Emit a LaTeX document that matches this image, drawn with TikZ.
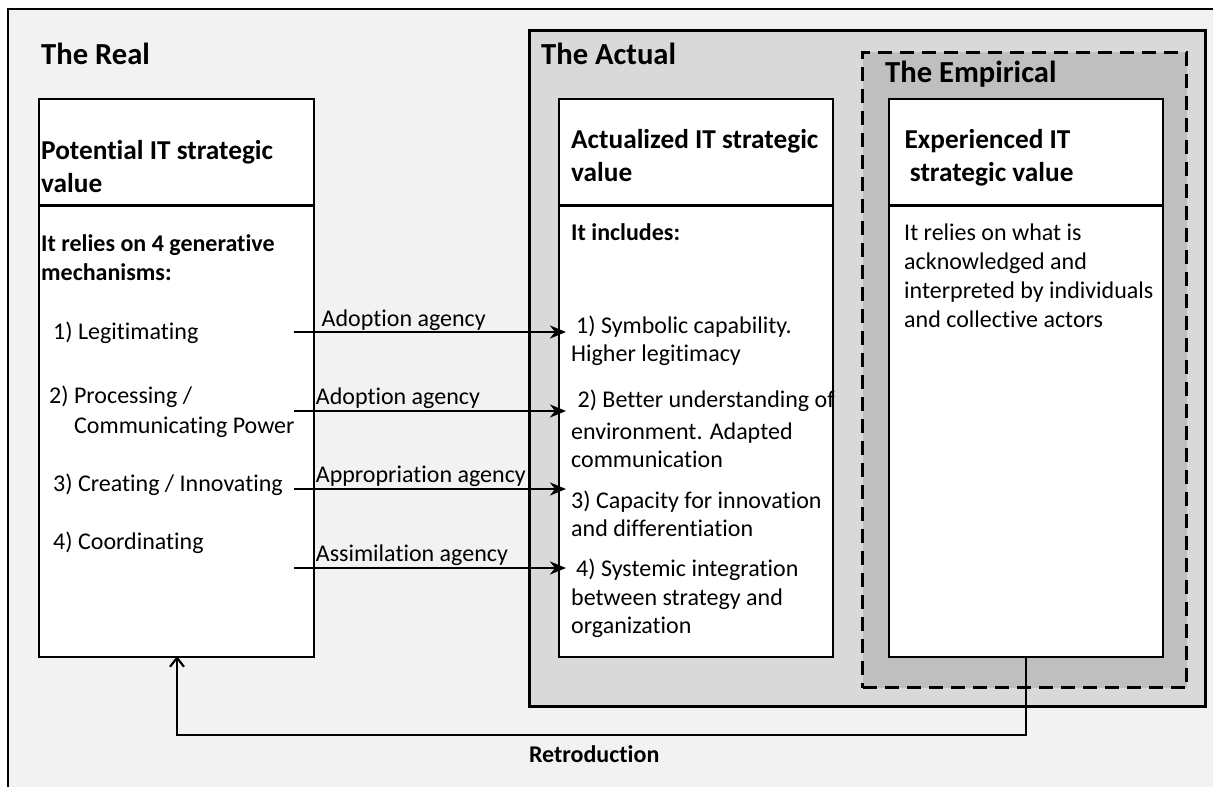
\documentclass[tikz,border=0pt]{standalone}
\usepackage{fontspec}
\setmainfont{Carlito}[Ligatures=NoCommon]
\usetikzlibrary{arrows.meta}
\definecolor{outerfill}{HTML}{F2F2F2}
\definecolor{actualfill}{HTML}{D9D9D9}
\definecolor{empfill}{HTML}{BFBFBF}
\begin{document}
\begin{tikzpicture}[x=1pt,y=-1pt,
  body/.style={font=\fontsize{24}{29}\selectfont, inner sep=0pt, anchor=base west},
  bbody/.style={font=\fontsize{24}{29}\selectfont\bfseries, inner sep=0pt, anchor=base west},
  head/.style={font=\fontsize{27.3}{33}\selectfont\bfseries, inner sep=0pt, anchor=base west},
  title/.style={font=\fontsize{30.6}{36}\selectfont\bfseries, inner sep=0pt, anchor=base west},
  whitebox/.style={draw, line width=2pt, fill=white, anchor=north west, inner sep=0pt, minimum width=274pt, minimum height=558pt},
  sepline/.style={line width=3pt},
  agency/.style={line width=2.6pt, -{Stealth[length=16pt,width=13pt,inset=5pt]}},
  retro/.style={line width=2.2pt, -{Straight Barb[length=9pt,width=14pt]}}
]
\useasboundingbox (0,0) rectangle (1213,787);
\begin{scope}
  \clip (0,0) rectangle (1213,787);
  \draw[line width=2.5pt, fill=outerfill] (8,9) rectangle (1230,800);
\end{scope}

% The Actual
\node[draw, line width=3pt, fill=actualfill, anchor=north west, inner sep=0pt,
      minimum width=676pt, minimum height=676pt] (actual) at (528,29) {};
% The Empirical
\node[draw, dashed, dash pattern=on 14pt off 8pt, line width=3pt, fill=empfill, anchor=north west, inner sep=0pt,
      minimum width=324pt, minimum height=635.5pt] (empirical) at (861,50.5) {};

% boxes
\node[whitebox, minimum width=275pt, minimum height=558.5pt] (pot) at (38,97.5) {};
\node[whitebox] (actb) at (558,98) {};
\node[whitebox] (expb) at (888,98) {};
\draw[sepline] (38,205.5) -- (313,205.5);
\draw[sepline] (558,205.5) -- (832,205.5);
\draw[sepline] (888,205.5) -- (1162,205.5);

% titles
\node[title] (treal) at (41,64) {The Real};
\node[title] (tactual) at (541,64) {The Actual};
\node[title] (temp) at (885,82) {The Empirical};

% Potential box texts
\node[head] (ph1) at (41,159) {Potential IT strategic};
\node[head] (ph2) at (41,192) {value};
\node[bbody] (pb1) at (41,251) {It relies on 4 generative};
\node[bbody] (pb2) at (41,280) {mechanisms:};
\node[body] (p1) at (53,339) {1) Legitimating};
\node[body] (p2a) at (49,403) {2) Processing /};
\node[body] (p2b) at (74,433.5) {Communicating Power};
\node[body] (p3) at (53,491.7) {3) Creating / Innovating};
\node[body] (p4) at (53,549.3) {4) Coordinating};

% Actualized box texts
\node[head] (ah1) at (571,148.3) {Actualized IT strategic};
\node[head] (ah2) at (571,181.7) {value};
\node[bbody] (ab) at (571,240.7) {It includes:};
\node[body] (a1a) at (576,333.3) {1) Symbolic capability.};
\node[body] (a1b) at (571,361.7) {Higher legitimacy};
\node[body] (a2a) at (577.4,407.7) {2) Better understanding of};
\node[body] (a2b) at (571,439) {environment. Adapted};
\node[body] (a2c) at (571,467.7) {communication};
\node[body] (a3a) at (571,508.3) {3) Capacity for innovation};
\node[body] (a3b) at (571,536) {and differentiation};
\node[body] (a4a) at (576,576) {4) Systemic integration};
\node[body] (a4b) at (571,605) {between strategy and};
\node[body] (a4c) at (571,633.3) {organization};

% Experienced box texts
\node[head] (eh1) at (904.4,148.3) {Experienced IT};
\node[head] (eh2) at (909.7,181.7) {strategic value};
\node[body] (e1) at (904,240.7) {It relies on what is};
\node[body] (e2) at (904,269.3) {acknowledged and};
\node[body] (e3) at (904,298.3) {interpreted by individuals};
\node[body] (e4) at (904,327.3) {and collective actors};

% agency arrows
\coordinate (s1) at (294,332); \coordinate (t1) at (566,332);
\coordinate (s2) at (294,411); \coordinate (t2) at (566,411);
\coordinate (s3) at (294,489); \coordinate (t3) at (566,489);
\coordinate (s4) at (294,568); \coordinate (t4) at (566,568);
\draw[agency] (s1) -- (t1);
\draw[agency] (s2) -- (t2);
\draw[agency] (s3) -- (t3);
\draw[agency] (s4) -- (t4);
\node[body] (l1) at (321.5,326) {Adoption agency};
\node[body] (l2) at (315.7,404.3) {Adoption agency};
\node[body] (l3) at (315.7,482.7) {Appropriation agency};
\node[body] (l4) at (315.7,561) {Assimilation agency};

% retroduction
\coordinate (rs) at (1026,656);
\coordinate (re) at (177,656);
\draw[retro] (rs) -- (1026,735) -- (177,735) -- (re);
\node[bbody] (retrolabel) at (528.8,762.7) {Retroduction};
\end{tikzpicture}
\end{document}
